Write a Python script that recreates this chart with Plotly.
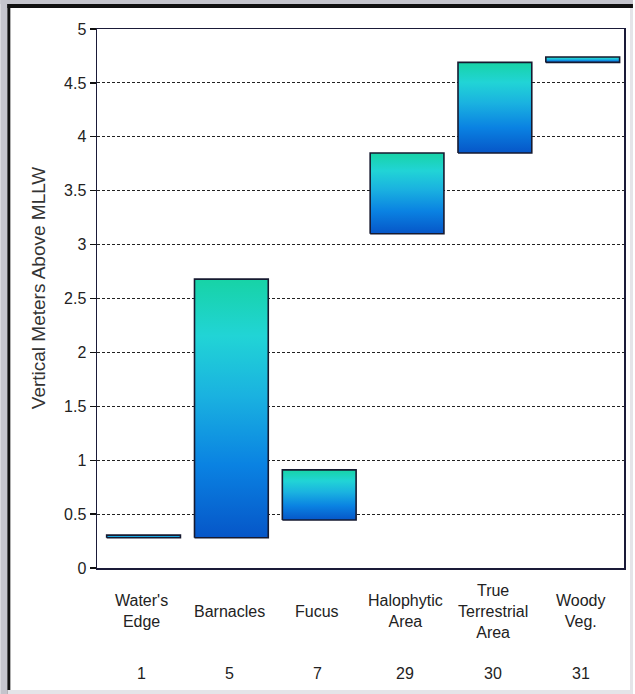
import plotly.graph_objects as go

# ---- data ----
categories = ["Water's<br>Edge", "Barnacles", "Fucus", "Halophytic<br>Area",
              "True<br>Terrestrial<br>Area", "Woody<br>Veg."]
codes = ["1", "5", "7", "29", "30", "31"]
low_vals = [0.28, 0.28, 0.445, 3.10, 3.85, 4.69]
high_vals = [0.305, 2.68, 0.91, 3.85, 4.69, 4.74]
y_ticks = [0, 0.5, 1, 1.5, 2, 2.5, 3, 3.5, 4, 4.5, 5]

W, H = 635, 694
ML, MR, MT, MB = 97, 9, 29, 126
PW, PH = W - ML - MR, H - MT - MB


def px2x(px):
    return (px - ML) / PW


def px2y(py):
    return (H - MB - py) / PH


FONT = "Liberation Sans, Arial, sans-serif"
half = 0.42
grad = [[0, "#0656c8"], [0.28, "#0a82e2"], [0.55, "#1ab2e0"],
        [0.78, "#21d4d6"], [1, "#17d3a6"]]

fig = go.Figure()
for i, (lo, hi) in enumerate(zip(low_vals, high_vals)):
    fig.add_trace(go.Scatter(
        x=[i - half, i + half, i + half, i - half, i - half],
        y=[lo, lo, hi, hi, lo],
        mode="lines", fill="toself",
        fillgradient=dict(type="vertical", colorscale=grad),
        line=dict(color="#161a30", width=1.6),
        hoverinfo="skip", showlegend=False,
    ))

annotations = []
for i, (c, k) in enumerate(zip(categories, codes)):
    annotations.append(dict(x=i, xref="x", y=px2y(611), yref="paper",
                            text=c, showarrow=False, xanchor="center",
                            yanchor="middle", xshift=-2,
                            font=dict(family=FONT, size=16, color="#222")))
    annotations.append(dict(x=i, xref="x", y=px2y(673), yref="paper",
                            text=k, showarrow=False, xanchor="center",
                            yanchor="middle", xshift=-2,
                            font=dict(family=FONT, size=16, color="#222")))
annotations.append(dict(x=px2x(38), xref="paper", y=px2y(288), yref="paper",
                        text="Vertical Meters Above MLLW", textangle=-90,
                        showarrow=False, xanchor="center", yanchor="middle",
                        font=dict(family=FONT, size=19, color="#333")))

shapes = [
    # outer window frame
    dict(type="rect", xref="paper", yref="paper", x0=px2x(0), x1=px2x(7),
         y0=px2y(H), y1=px2y(0), fillcolor="#c4c4cc", line_width=0),
    dict(type="rect", xref="paper", yref="paper", x0=px2x(7), x1=px2x(10),
         y0=px2y(H), y1=px2y(4), fillcolor="#101010", line_width=0),
    dict(type="rect", xref="paper", yref="paper", x0=px2x(0), x1=px2x(W),
         y0=px2y(4), y1=px2y(0), fillcolor="#c4c4cc", line_width=0),
    dict(type="rect", xref="paper", yref="paper", x0=px2x(7), x1=px2x(W),
         y0=px2y(8), y1=px2y(4), fillcolor="#101010", line_width=0),
    dict(type="rect", xref="paper", yref="paper", x0=px2x(7), x1=px2x(W),
         y0=px2y(H), y1=px2y(690), fillcolor="#e4e4e8", line_width=0),
    dict(type="rect", xref="paper", yref="paper", x0=px2x(632), x1=px2x(W),
         y0=px2y(H), y1=px2y(8), fillcolor="#e4e4e8", line_width=0),
]

fig.update_layout(
    width=W, height=H,
    margin=dict(l=ML, r=MR, t=MT, b=MB, pad=0),
    paper_bgcolor="white", plot_bgcolor="white",
    font=dict(family=FONT, size=16, color="#222"),
    showlegend=False,
    annotations=annotations,
    shapes=shapes,
    xaxis=dict(range=[-0.53, 5.47], showticklabels=False, ticks="",
               showgrid=False, zeroline=False, showline=True,
               linecolor="#1a1a38", linewidth=1.5, mirror=True,
               fixedrange=True),
    yaxis=dict(range=[0, 5], tickvals=y_ticks, ticks="outside", ticklen=6,
               tickcolor="#111", tickwidth=1.2,
               showgrid=True, gridcolor="#222", griddash="3px,2px",
               gridwidth=1, zeroline=False, showline=True,
               linecolor="#1a1a38", linewidth=1.5, mirror=True,
               tickfont=dict(family=FONT, size=16, color="#222"),
               fixedrange=True),
)

fig.write_html("out.html",
               config={"displayModeBar": False, "staticPlot": True},
               post_script="document.body.style.margin='0';"
                           "document.body.style.overflow='hidden';")
